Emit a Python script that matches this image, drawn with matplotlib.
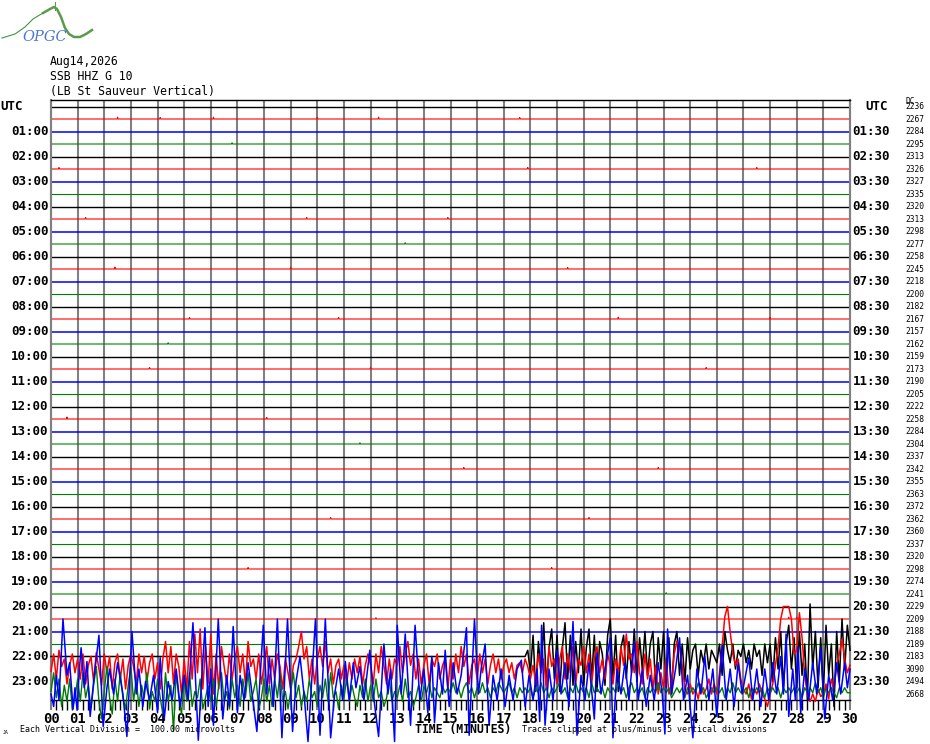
import numpy as np
import matplotlib.pyplot as plt

W, H = 930, 744
MONO = "DejaVu Sans Mono"

date_text = "Aug14,2026"
station_text = "SSB HHZ G 10"
site_text = "(LB St Sauveur Vertical)"

row_colors = ["black", "red", "blue", "#008000"]

# DC level printed at the right end of every 30 min row
dc_levels = [2236, 2267, 2284, 2295, 2313, 2326, 2327, 2335, 2320, 2313,
             2298, 2277, 2258, 2245, 2218, 2200, 2182, 2167, 2157, 2162,
             2159, 2173, 2190, 2205, 2222, 2258, 2284, 2304, 2337, 2342,
             2355, 2363, 2372, 2362, 2360, 2337, 2320, 2298, 2274, 2241,
             2229, 2209, 2188, 2189, 2183, 3090, 2494, 2668]

left_labels = ["UTC"] + ["%02d:00" % h for h in range(1, 24)]
right_labels = ["UTC"] + ["%02d:30" % h for h in range(1, 24)]
minute_labels = ["%02d" % m for m in range(31)]

# small blips on the quiet rows: row, minute, divisions
blip_rows = [1, 1, 1, 1, 1, 1, 3, 5, 5, 5, 9, 9, 9, 11, 13, 13, 13, 17, 17, 17,
             17, 21, 21, 21, 25, 25, 29, 29, 33, 33, 37, 37, 41, 41, 41, 19, 27, 39]
blip_min = [2.5, 4.1, 6.1, 10.0, 12.3, 17.6, 6.8, 0.3, 17.9, 26.5, 1.3, 9.6, 14.9,
            13.3, 2.4, 9.0, 19.4, 5.2, 10.8, 21.3, 27.0, 3.7, 12.0, 24.6, 0.6, 8.1,
            15.5, 22.8, 10.5, 20.2, 7.4, 18.8, 12.2, 27.7, 28.0, 4.4, 11.6, 23.1]
blip_amp = [0.15, 0.12, 0.15, 0.12, 0.15, 0.12, 0.1, 0.12, 0.12, 0.12, 0.12,
            0.12, 0.12, 0.1, 0.15, 0.12, 0.12, 0.12, 0.12, 0.15, 0.12, 0.12,
            0.12, 0.12, 0.15, 0.12, 0.12, 0.12, 0.12, 0.12, 0.12, 0.12, 0.1,
            0.15, 0.15, 0.1, 0.1, 0.1]

# row 44 (22:00, black): quiet, then noisy from 17.8 min, 0.1 min steps
black_start = 17.8
black_v = [0.0, 0.5,
           -1.3, 1.7, -2.8, 1.2, -1.3, 2.7, -2.3, 0.7, 2.2, -1.8,
           1.7, -2.8, 0.7, 2.7, -1.8, 1.7, -2.3, 1.2, -1.3, 2.2,
           -2.3, 0.7, 2.2, -1.8, 1.7, -2.8, 1.2, 0.2, -2.3, 1.7,
           3.0, -1.8, 1.7, -2.8, 0.7, 1.7, -1.8, 1.2, -1.3, 2.2,
           -2.0, 1.5, -1.0, 2.0, -1.5, 1.0, 2.0, -2.5, 1.5, -1.0,
           2.0, -2.5, 1.5, -3.0, 1.0, 2.0, -1.5, 1.0, -2.0, 1.5,
           -1.0, 0.5, 1.0, -1.5, 0.5, -0.5, 1.0, -1.0, 0.5, 0.0,
           -0.5, 1.0, -1.5, 2.0, 0.5, -0.5, 1.0, -1.0, 0.5, 0.0,
           1.0, -0.5, 0.5, -1.0, 1.0, 0.0, 0.5, -1.5, 1.0, -0.5,
           1.0, -2.0, 1.5, -1.0, 2.0, -2.5, 1.0, 2.5, -1.0, 1.5,
           -2.5, 2.0, -1.5, 1.0, -3.5, 4.2, -1.0, 2.0, -2.5, 1.5,
           -3.0, 2.5, -1.5, 1.0, -4.0, 2.0, -2.0, 3.0, -1.0, 2.5,
           0.5]

# row 45 (22:30, red), 0.1 min steps
red_v = [-0.2, 1.2, -0.8, 1.5, 0.2, 0.8, -1.2, 0.3, 1.2, -0.3,
         0.8, -0.8, 1.2, -1.2, 0.3, 1.0, -1.0, 1.3, 0.0, -1.3,
         1.2, -0.3, 1.0, -1.6, 0.5, 1.2, -0.8, 0.8, -1.6, 0.3,
         1.2, 0.2, -1.2, 1.2, -0.3, 1.0, -1.0, 0.5, 1.2, -0.8,
         0.5, -1.6, 0.8, 2.2, -0.3, 1.8, -1.2, 1.2, 0.2, -2.0,
         0.8, -1.6, 2.2, -0.8, 2.8, -0.3, 3.2, -1.6, 1.8, -1.2,
         2.8, -2.0, 1.2, -1.6, 1.8, 0.2, -1.2, 1.2, -0.8, 0.8,
         1.8, -0.3, 1.2, -1.2, 2.2, 0.2, 0.8, -0.8, 1.2, -1.2,
         0.3, 1.8, -1.2, 0.8, -0.8, 1.2, 0.2, -1.6, 0.8, -0.3,
         -1.6, 0.3, 0.8, 1.8, 3.0, 0.8, 1.8, -0.8, 0.8, -1.2,
         0.8, 1.8, 0.2, 2.2, -0.3, 0.8, -1.2, 0.3, 0.8, -0.8,
         0.3, -1.2, 0.5, -0.8, 0.8, -0.3, 1.0, -1.2, 0.3, 1.2,
         0.3, -1.2, 1.2, -0.3, 1.8, 0.3, -1.2, 0.8, -0.8, 0.8,
         0.3, 1.8, -0.3, 1.2, 2.2, 0.3, 1.2, -0.8, 0.8, -1.2,
         0.3, 1.2, -1.2, 0.8, 0.2, 1.2, -0.8, 0.3, 0.8, -1.6,
         0.8, -0.8, 1.2, -0.3, 1.8, 0.2, 1.2, -1.2, 0.3, 0.8,
         -0.8, 1.2, -0.3, 0.8, -1.2, 0.3, 1.2, -0.3, 0.8, -0.8,
         0.3, 0.8, -0.3, 0.5, -0.8, 0.3, 0.5, -0.3, 0.8, 0.2,
         -0.8, 0.3, -1.2, 1.2, -0.3, 0.8, -1.6, 1.8, 0.2, 0.8,
         -1.2, 0.8, 1.8, -0.8, 1.2, -0.3, 1.8, -1.2, 0.8, 0.3,
         1.8, -0.3, 1.2, -1.2, 0.8, 1.8, -0.3, 0.8, -0.8, 1.2,
         0.3, -1.2, 0.8, -0.3, 1.8, 0.3, 2.8, 0.8, 1.2, -0.3,
         2.2, -0.3, -1.2, 1.2, -0.8, 0.8, -1.6, 0.3, -2.0, -0.3,
         -1.6, 0.8, -2.0, -1.2, 1.2, 2.2, 1.8, 0.3, -1.6, -2.0,
         -1.2, -2.0, -1.6, -2.4, -1.2, -2.0, -1.6, -0.8, -2.0, -1.2,
         -2.0, -0.3, 1.8, 4.2, 5.5, 3.0, 1.2, 0.3, 0.8, -0.8,
         -1.6, -2.0, -1.2, -2.4, -1.6, -2.0, -1.2, -2.0, -2.4, -3.0,
         -2.0, -1.2, 0.3, 1.8, 4.0, 5.5, 5.5, 5.5, 4.0, 1.2,
         1.5, 4.5, 2.5, -0.5, -2.0, -2.6, -2.0, -2.6, -1.6, -2.2,
         -2.0, -1.2, -2.4, -0.8, -1.6, 0.3, 1.2, 2.4, 0.8, -0.3,
         0.3]

# row 47 (23:30, green), 0.1 min steps
green_v = [0.2, 1.7, -0.3, 1.2, -1.0, 0.7, -0.6, 1.2, -1.2, -0.3,
           1.2, -0.6, 1.7, -0.3, 0.7, -1.2, 0.7, 2.2, -0.6, -2.0,
           0.2, 2.2, -0.3, -1.6, 1.2, -0.6, 1.7, -0.3, -1.2, 0.7,
           2.2, -0.6, 1.2, -1.0, 0.7, -0.3, 1.7, -1.2, 0.2, -0.6,
           1.2, -0.3, -1.6, 1.7, -0.6, 0.7, -3.0, 1.7, -0.3, -1.6,
           1.2, -0.6, 1.7, -1.0, 0.2, -0.3, 1.2, -1.2, -0.3, 0.7,
           -0.6, 1.2, -1.0, 0.7, 1.7, -0.6, 0.2, -1.2, 1.2, -0.3,
           0.7, -1.0, 1.2, -0.3, 1.7, -0.6, 0.2, 1.2, -1.2, -0.3,
           1.2, -0.6, 0.7, -1.0, 1.2, -0.3, 1.7, -0.6, 0.2, -1.2,
           0.2, 1.7, -0.3, 0.7, -1.0, 0.2, -0.6, 1.2, -0.3, 0.2,
           -1.0, 0.7, -0.3, 1.2, -0.6, 1.7, -0.3, 0.2, -1.2, 0.7,
           -0.3, 1.2, -0.6, 0.7, -0.3, -1.0, 0.7, -0.3, 1.2, -0.6,
           0.7, -0.6, 1.2, -0.3, 0.2, -1.0, -0.3, 1.2, -0.6, 0.2,
           -0.3, 0.7, -0.6, 1.2, -0.3, 0.2, -1.0, -0.3, 0.7, -0.6,
           0.6, 0.1, 0.9, -0.3, 0.5, 0.1, -0.3, 0.6, 0.1, 0.5,
           0.1, 0.9, 0.1, 0.5, -0.3, 0.5, 0.9, 0.1, 0.5, -0.3,
           0.5, 0.1, 0.9, 0.1, 0.5, -0.3, 0.5, 0.1, 0.9, 0.5,
           0.1, 0.5, 0.9, 0.1, 0.5, -0.3, 0.5, 0.1, 0.5, 0.1,
           0.5, -0.3, 0.5, 0.1, 0.9, 0.1, 0.5, -0.3, 0.5, 0.1,
           0.5, 0.9, 0.1, 0.5, -0.3, 0.5, 0.1, 0.9, 0.1, 0.5,
           0.1, 0.5, -0.3, 0.9, 0.1, 0.5, 0.1, 0.5, -0.3, 0.5,
           0.1, 0.5, 0.1, 0.9, 0.1, 0.5, -0.3, 0.5, 0.9, 0.1,
           0.5, 0.1, 0.5, -0.3, 0.5, 0.1, 0.5, 0.1, 0.9, 0.1,
           0.5, 0.1, 0.5, -0.3, 0.1, 0.5, 0.1, 0.5, -0.3, 0.5,
           0.1, 0.5, 0.1, 0.9, 0.1, 0.5, -0.3, 0.1, 0.5, 0.1,
           0.5, 0.1, 0.5, -0.3, 0.5, 0.1, 0.9, 0.1, 0.5, 0.1,
           0.1, 0.5, -0.3, 0.5, 0.1, 0.5, 0.1, 0.5, -0.3, 0.5,
           0.1, 0.5, 0.1, 0.5, -0.3, 0.5, 0.1, 0.5, 0.1, 0.5,
           0.1, 0.5, -0.3, 0.5, 0.1, 0.5, 0.1, 0.9, 0.1, 0.5,
           -0.3, 0.5, 0.1, 0.5, 0.1, -0.3, 0.5, 0.1, 0.5, 0.1,
           0.1]

# row 46 (23:00, blue): turning points, minute / divisions
blue_t = [0.0, 0.1, 0.2, 0.3, 0.45, 0.6, 0.7, 0.83, 0.9, 0.98, 1.05, 1.13, 1.25,
          1.35, 1.47, 1.6, 1.8, 1.96, 2.1, 2.2, 2.35, 2.5, 2.7, 2.85, 3.04, 3.2,
          3.3, 3.45, 3.55, 3.7, 3.85, 4.0, 4.1, 4.25, 4.4, 4.55, 4.7, 4.85, 5.0,
          5.15, 5.33, 5.53, 5.65, 5.78, 5.9, 6.0, 6.1, 6.28, 6.45, 6.6, 6.7, 6.84,
          7.0, 7.1, 7.25, 7.4, 7.55, 7.73, 7.97, 8.1, 8.2, 8.35, 8.5, 8.67, 8.88,
          9.07, 9.2, 9.35, 9.5, 9.65, 9.93, 10.1, 10.3, 10.5, 10.65, 10.8, 10.95,
          11.05, 11.2, 11.35, 11.45, 11.6, 11.75, 11.97, 12.1, 12.3, 12.5, 12.65,
          12.75, 12.9, 13.0, 13.15, 13.3, 13.5, 13.67, 13.85, 14.0, 14.15, 14.3,
          14.4, 14.55, 14.7, 14.8, 14.95, 15.1, 15.25, 15.4, 15.6, 15.7, 15.9,
          16.05, 16.15, 16.3, 16.45, 16.6, 16.75, 16.9, 17.05, 17.2, 17.35, 17.5,
          17.66, 17.8, 17.95, 18.1, 18.25, 18.35, 18.42, 18.55, 18.7, 18.85, 19.0,
          19.15, 19.3, 19.45, 19.6, 19.75, 19.9, 20.05, 20.2, 20.4, 20.5, 20.65,
          20.8, 21.0, 21.1, 21.25, 21.4, 21.55, 21.7, 21.9, 22.05, 22.2, 22.35,
          22.5, 22.65, 22.8, 22.95, 23.05, 23.15, 23.3, 23.45, 23.6, 23.75, 23.9,
          24.1, 24.25, 24.4, 24.55, 24.7, 24.85, 25.0, 25.2, 25.35, 25.5, 25.65,
          25.8, 25.95, 26.2, 26.35, 26.5, 26.65, 26.8, 26.95, 27.1, 27.25, 27.4,
          27.5, 27.6, 27.7, 27.85, 27.95, 28.05, 28.15, 28.3, 28.45, 28.6, 28.75,
          28.9, 29.05, 29.2, 29.35, 29.5, 29.65, 29.8, 29.9, 30.0]
blue_v = [-1.0, -2.0, 0.5, -1.5, 5.5, 0.5, 1.5, -2.2, -0.5, -2.3, 0.5, 2.7, -0.5,
          1.6, -2.8, 0.0, 3.7, -3.6, -0.5, 1.0, -1.0, 1.5, -1.0, -4.4, 4.0, -1.0,
          1.0, -2.0, 0.0, -1.5, 0.5, -2.5, 1.9, -3.0, 0.0, -1.5, 1.0, -2.0, 0.5,
          -1.5, 4.7, -4.7, 0.0, 4.3, -2.0, 1.0, -3.5, 5.5, -3.0, 0.5, -2.0, 4.4,
          -2.5, 0.5, -1.5, 1.5, -1.0, -4.0, 4.5, -1.0, 2.0, -2.0, 5.5, -4.5, 5.5,
          -4.0, 0.0, 2.0, -1.0, -4.8, 5.5, -4.3, 5.5, -4.5, -1.0, 1.0, -1.5,
          1.6, -1.5, 1.5, -0.5, 1.2, -1.5, 2.5, -1.0, -4.4, 3.0, -1.0,
          1.0, -4.8, 4.5, -1.0, 3.8, -3.5, 4.5, -1.5, 1.0, -2.5, 2.0,
          -3.3, 1.5, -1.0, 2.5, -2.0, 1.5, -1.0, 0.5, 4.3, -4.3, 5.5,
          -1.0, 1.0, 3.0, -3.5, 0.5, -1.5, 1.0, -2.0, 0.5, -1.5, 1.0,
          1.7, -2.0, 0.5, -1.5, 1.0, -3.2, 4.5, -3.5, 1.0, -1.5, 2.5,
          -1.0, 1.5, -2.0, 4.8, -4.3, 0.5, -1.5, 1.5, -3.0, 2.3, -1.0,
          1.0, 3.5, -4.5, 1.0, -1.0, 1.5, -1.5, 3.2, -1.5, 1.0, -2.0,
          0.5, -1.5, 1.5, -1.0, -4.2, 4.2, -1.0, 1.0, 3.5, -1.5, 0.5,
          -4.5, 1.0, -1.0, 2.0, -1.5, 1.0, -2.8, 2.9, -1.5, 1.0, -2.0,
          1.5, -1.0, 1.9, -1.5, 1.0, -2.0, 1.0, -1.5, 1.5, -1.0, 2.0,
          -1.0, 3.8, -2.8, 1.0, -1.5, 2.8, -2.5, 1.0, -1.5, 1.5, -1.0,
          2.7, -3.0, 0.5, -1.5, 1.5, -1.0, 1.5, -0.5, 1.0]

# OPGC logo outline, pixel coordinates
logo_x = [2, 15, 25, 33, 43, 50, 54, 57, 61, 65, 69, 74, 80, 86, 92]
logo_y = [38, 34, 27, 19, 13, 9, 7, 9, 17, 28, 34, 37, 37, 34, 30]


def fx(px):
    return px / W


def fy(py):
    return 1 - py / H


fig = plt.figure(figsize=(W / 100, H / 100), dpi=100)
fig.patch.set_facecolor("white")

# logo
lax = fig.add_axes([0, fy(46), 100 / W, 46 / H])
lax.set_xlim(0, 100)
lax.set_ylim(46, 0)
lax.axis("off")
lax.plot(logo_x[:5], logo_y[:5], color="#3a9a3a", lw=0.8)
lax.plot(logo_x[4:], logo_y[4:], color="#5a9a4a", lw=1.8)
lax.plot([55, 55], [2, 10], color="#5a9a4a", lw=0.8)
lax.text(22, 37, "OPGC", color="#4a78d0", fontsize=10.5, style="italic",
         va="center", ha="left", family="DejaVu Serif")

ax = fig.add_axes([fx(51), fy(700), (850 - 51) / W, 600 / H])
ax.set_xlim(0, 30)
ax.set_ylim(47.48, -0.52)
ax.set_yticks([])
for side in ["left", "right"]:
    ax.spines[side].set_color("#808080")
    ax.spines[side].set_linewidth(1.5)
for side in ["top", "bottom"]:
    ax.spines[side].set_color("black")
    ax.spines[side].set_linewidth(1.0)

ax.vlines(range(31), -0.52, 48.28, colors="#808080", lw=1.5,
          clip_on=False, zorder=1)

ax.set_xticks(range(31))
ax.set_xticklabels(minute_labels, fontfamily=MONO, fontweight="bold",
                   fontsize=10)
ax.set_xticks(np.arange(0, 30.01, 0.2), minor=True)
ax.tick_params(axis="x", which="major", length=0, pad=8.5)
ax.tick_params(axis="x", which="minor", length=7, width=1, color="black")

# quiet rows
active = [44, 45, 46, 47]
for i in range(48):
    if i in active:
        continue
    col = row_colors[i % 4]
    marks = sorted((m, a) for r, m, a in zip(blip_rows, blip_min, blip_amp)
                   if r == i)
    xs, vs = [0.0], [0.0]
    for m, a in marks:
        xs += [m - 0.02, m, m + 0.02]
        vs += [0.0, a, 0.0]
    xs.append(30.0)
    vs.append(0.0)
    lw = {0: 1.0, 1: 0.8, 2: 1.1, 3: 0.8}[i % 4]
    ax.plot(xs, i - np.array(vs), color=col, lw=lw, zorder=2)

t_grid = np.arange(len(red_v)) * 0.1
t_black = black_start + np.arange(len(black_v)) * 0.1
bx = np.concatenate([[0.0], t_black])
bv = np.concatenate([[0.0], black_v])

ax.plot(bx, 44 - np.clip(bv, -5, 5), color="black", lw=1.1,
        clip_on=False, zorder=3)
ax.plot(t_grid, 45 - np.clip(red_v, -5, 5), color="red", lw=1.1,
        clip_on=False, zorder=3)
ax.plot(blue_t, 46 - np.clip(blue_v, -5, 5), color="blue", lw=1.1,
        clip_on=False, zorder=4)
ax.plot(t_grid, 47 - np.clip(green_v, -5, 5), color="#007a00", lw=1.0,
        clip_on=False, zorder=3)

# row labels
for k in range(1, 24):
    ax.text(-0.09, 2 * k, left_labels[k], ha="right", va="center",
            fontfamily=MONO, fontweight="bold", fontsize=9)
    ax.text(30.1, 2 * k, right_labels[k], ha="left", va="center",
            fontfamily=MONO, fontweight="bold", fontsize=9)
fig.text(fx(0), fy(106.5), left_labels[0], ha="left", va="center",
         fontfamily=MONO, fontweight="bold", fontsize=9)
fig.text(fx(865), fy(106.5), right_labels[0], ha="left", va="center",
         fontfamily=MONO, fontweight="bold", fontsize=9)

for i, v in enumerate(dc_levels):
    ax.text(32.07, i, str(v), ha="left", va="center", fontfamily=MONO,
            fontsize=5.7)
fig.text(fx(905), fy(101), "DC", ha="left", va="center", fontfamily=MONO,
         fontsize=5.7)

# header
fig.text(fx(50), fy(61), date_text, ha="left", va="center", fontfamily=MONO,
         fontsize=8.3)
fig.text(fx(50), fy(76), station_text, ha="left", va="center",
         fontfamily=MONO, fontsize=8.3)
fig.text(fx(50), fy(91), site_text, ha="left", va="center", fontfamily=MONO,
         fontsize=8.3)

# footer
fig.text(fx(3), fy(733), "JA", ha="left", va="center", fontfamily=MONO,
         fontsize=3.5)
fig.text(fx(20), fy(729), "Each Vertical Division =  100.00 microvolts",
         ha="left", va="center", fontfamily=MONO, fontsize=6)
fig.text(fx(415), fy(729), "TIME (MINUTES)", ha="left", va="center",
         fontfamily=MONO, fontweight="bold", fontsize=8.3)
fig.text(fx(522), fy(729), "Traces clipped at plus/minus 5 vertical divisions",
         ha="left", va="center", fontfamily=MONO, fontsize=6)

fig.savefig("out.png", dpi=100)
